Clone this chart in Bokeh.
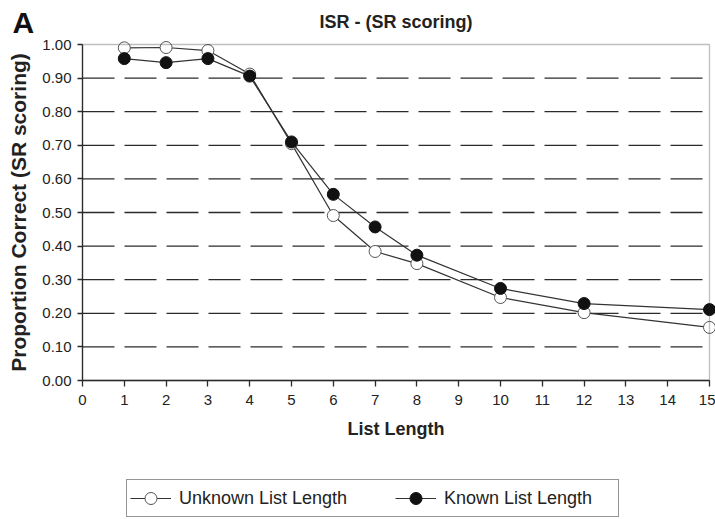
from bokeh.plotting import figure
from bokeh.models import (Range1d, FixedTicker, NumeralTickFormatter, BoxAnnotation,
                          Label, Legend, LegendItem, ColumnDataSource)
from bokeh.embed import file_html
from bokeh.resources import INLINE

# ---- data ----
list_length = [1, 2, 3, 4, 5, 6, 7, 8, 10, 12, 15]
unknown_ll = [0.990, 0.991, 0.982, 0.912, 0.705, 0.491, 0.384, 0.348, 0.247, 0.202, 0.158]
known_ll = [0.958, 0.946, 0.958, 0.906, 0.710, 0.554, 0.457, 0.373, 0.274, 0.229, 0.211]
x_ticks = [0, 1, 2, 3, 4, 5, 6, 7, 8, 9, 10, 11, 12, 13, 14, 15]
y_ticks = [0.0, 0.1, 0.2, 0.3, 0.4, 0.5, 0.6, 0.7, 0.8, 0.9, 1.0]
dashed_grid = [0.1, 0.2, 0.3, 0.4, 0.5, 0.6, 0.7, 0.8, 0.9]

FONT = "Liberation Sans"
DARK = "#2b2b2b"
W, H = 715, 519
X_MIN, X_MAX = x_ticks[0], x_ticks[-1]
Y_MIN, Y_MAX = y_ticks[0], y_ticks[-1]
# plot area in pixels: x 0..15 -> 82..709, y 0..1 -> 380..44
PX_X = (709 - 82) / (X_MAX - X_MIN)
PX_Y = (380 - 44) / (Y_MAX - Y_MIN)

p = figure(width=W, height=H, output_backend="svg", toolbar_location=None,
           x_range=Range1d(X_MIN - 82 / PX_X, X_MIN + (W - 82) / PX_X),
           y_range=Range1d(Y_MIN - (H - 380) / PX_Y, Y_MIN + 380 / PX_Y),
           min_border=0, min_border_left=0, min_border_right=0,
           min_border_top=0, min_border_bottom=0)
p.outline_line_color = None
p.background_fill_color = "white"
p.border_fill_color = "white"

# axes (fixed inside the frame)
for ax in (p.xaxis[0], p.yaxis[0]):
    ax.fixed_location = 0
    ax.axis_line_color = DARK
    ax.axis_line_width = 1.3
    ax.major_tick_line_color = DARK
    ax.major_tick_line_width = 1.3
    ax.minor_tick_line_color = None
    ax.major_tick_in = 0
    ax.major_label_text_font = FONT
    ax.major_label_text_font_size = "15px"
    ax.major_label_text_color = "#222222"
    ax.axis_label_text_font = FONT
    ax.axis_label_text_font_style = "bold"
    ax.axis_label_text_color = "#222222"

p.xaxis.ticker = FixedTicker(ticks=x_ticks)
p.xaxis.bounds = (X_MIN, X_MAX)
p.xaxis.major_tick_out = 6
p.xaxis.major_label_standoff = 8
p.xaxis.axis_label = "List Length"
p.xaxis.axis_label_text_font_size = "18px"
p.xaxis.axis_label_standoff = 11

p.yaxis.ticker = FixedTicker(ticks=y_ticks)
p.yaxis.bounds = (Y_MIN, Y_MAX)
p.yaxis.formatter = NumeralTickFormatter(format="0.00")
p.yaxis.major_tick_out = 5
p.yaxis.major_label_standoff = 6
p.yaxis.axis_label = "Proportion Correct (SR scoring)"
p.yaxis.axis_label_text_font_size = "21px"
p.yaxis.axis_label_standoff = 9

# grid: dashed horizontal lines limited to the plot area
p.xgrid.visible = False
p.ygrid.visible = False
grid_src = ColumnDataSource(dict(y=dashed_grid,
                                 x0=[X_MIN] * len(dashed_grid),
                                 x1=[X_MAX] * len(dashed_grid)))
p.segment(x0="x0", x1="x1", y0="y", y1="y", source=grid_src,
          line_color=DARK, line_width=1.3, line_dash="32 10")

# frame box (solid top at 1.00 and right border)
p.add_layout(BoxAnnotation(left=X_MIN, right=X_MAX, bottom=Y_MIN, top=Y_MAX,
                           fill_alpha=0, line_color=DARK, line_width=1.3))

# series
lu = p.line(list_length, unknown_ll, line_color="#333333", line_width=1.2)
su = p.scatter(list_length, unknown_ll, size=12, fill_color="white",
               line_color="#555555", line_width=1)
lk = p.line(list_length, known_ll, line_color="#333333", line_width=1.2)
sk = p.scatter(list_length, known_ll, size=12, fill_color="#111111",
               line_color="#111111", line_width=1)

# title and panel letter (screen units from the bottom-left of the canvas)
p.add_layout(Label(x=395.5, y=H - 21, x_units="screen", y_units="screen",
                   text="ISR - (SR scoring)", text_align="center",
                   text_baseline="alphabetic", text_font=FONT, text_font_size="18px",
                   text_font_style="bold", text_color="#222222"))
p.add_layout(Label(x=12, y=H - 22, x_units="screen", y_units="screen",
                   text="A", text_align="left", text_baseline="alphabetic",
                   text_font=FONT, text_font_size="30px", text_font_style="bold",
                   text_color="#111111"))

legend = Legend(items=[LegendItem(label="Unknown List Length", renderers=[lu, su]),
                       LegendItem(label="Known List Length", renderers=[lk, sk])],
                orientation="horizontal", location=(126, H - 517),
                padding=3, spacing=45, glyph_width=41, glyph_height=30,
                label_height=30, label_width=171, label_standoff=8, margin=0,
                label_text_font=FONT, label_text_font_size="18px",
                label_text_color="#222222", border_line_color=DARK,
                border_line_width=1.3, background_fill_color="white",
                background_fill_alpha=1)
p.add_layout(legend, "center")

open("out.html", "w").write(file_html(p, INLINE))
